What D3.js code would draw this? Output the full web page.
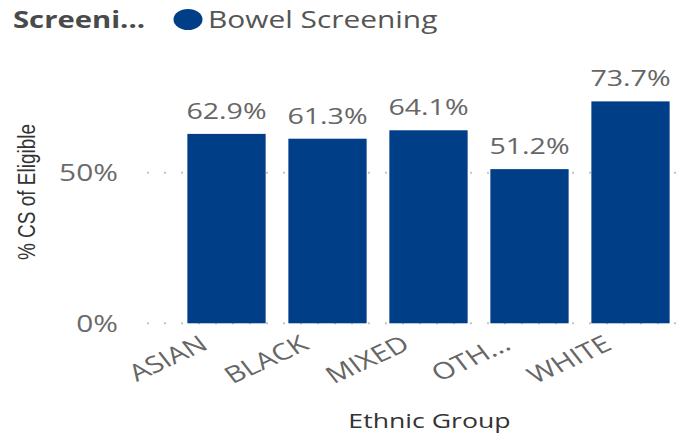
<!DOCTYPE html>
<html>
<head>
<meta charset="utf-8">
<script src="https://cdn.jsdelivr.net/npm/d3@7"></script>
<style>
  html, body { margin: 0; padding: 0; background: #fff; }
  svg { display: block; }
  text { font-family: "Open Sans", sans-serif; }
</style>
</head>
<body>
<svg id="chart" width="695" height="434"></svg>
<script>
const categories = ["ASIAN", "BLACK", "MIXED", "OTH...", "WHITE"];
const bowelScreening = [0.629, 0.613, 0.641, 0.512, 0.737];
const yTickValues = [0, 0.5];
const legendTitle = "Screeni...";
const seriesName = "Bowel Screening";
const xTitle = "Ethnic Group";
const yTitle = "% CS of Eligible";

const SX = 1.3; // horizontal glyph stretch seen in the reference
const barColor = "#003f87";
const svg = d3.select("#chart");

const x = d3.scaleBand().domain(categories).range([176, 681])
  .paddingInner(0.225).paddingOuter(0.1125);
const y = d3.scaleLinear().domain([0, 0.8]).range([323.3, 82.4]);

// gridlines (dotted)
svg.append("g").selectAll("line").data(yTickValues).join("line")
  .attr("x1", 147).attr("x2", 688)
  .attr("y1", d => y(d)).attr("y2", d => y(d))
  .attr("stroke", "#c4c4c4").attr("stroke-width", 2)
  .attr("stroke-dasharray", "2 15");

// y axis
const yAxis = svg.append("g").attr("transform", "translate(118,0)")
  .call(d3.axisLeft(y).tickValues(yTickValues).tickFormat(d3.format(".0%")).tickSize(0));
yAxis.select(".domain").remove();
yAxis.selectAll("text")
  .attr("x", null).attr("dy", null)
  .attr("text-anchor", "end")
  .attr("transform", `translate(0,8) scale(${SX},1)`)
  .attr("fill", "#6b6b6b")
  .style("font-size", "23px")
  .style("font-family", "'Open Sans', sans-serif");

// bars
svg.append("g").selectAll("rect").data(categories).join("rect")
  .attr("x", d => x(d))
  .attr("width", x.bandwidth())
  .attr("y", (d, i) => y(bowelScreening[i]))
  .attr("height", (d, i) => y(0) - y(bowelScreening[i]))
  .attr("fill", barColor);

// data labels
const fmt = d3.format(".1%");
svg.append("g").selectAll("text").data(categories).join("text")
  .attr("transform", (d, i) => `translate(${x(d) + x.bandwidth() / 2},${y(bowelScreening[i]) - 15}) scale(${SX},1)`)
  .attr("text-anchor", "middle")
  .attr("fill", "#666")
  .style("font-size", "22px")
  .text((d, i) => fmt(bowelScreening[i]));

// x axis labels
const xAxis = svg.append("g").attr("transform", `translate(0,${y(0)})`)
  .call(d3.axisBottom(x).tickSize(0));
xAxis.select(".domain").remove();
xAxis.selectAll("text")
  .attr("y", null).attr("dy", null)
  .attr("text-anchor", "end")
  .attr("transform", `translate(-17,25) scale(${SX},1) rotate(-31)`)
  .attr("fill", "#666")
  .style("font-size", "23px")
  .style("font-family", "'Open Sans', sans-serif");

// axis titles
svg.append("text")
  .attr("transform", `translate(429.5,428) scale(${SX},1)`)
  .attr("text-anchor", "middle")
  .attr("fill", "#333")
  .style("font-size", "20.5px")
  .text(xTitle);

svg.append("text")
  .attr("transform", `translate(35,192) scale(${SX},1) rotate(-90)`)
  .attr("text-anchor", "middle")
  .attr("fill", "#333")
  .style("font-family", "'Liberation Sans', Arial, sans-serif")
  .style("font-size", "19px")
  .text(yTitle);

// legend
svg.append("text")
  .attr("transform", `translate(13,28) scale(${SX},1)`)
  .attr("fill", "#4a4a4a")
  .style("font-size", "22.5px")
  .style("font-weight", "bold")
  .text(legendTitle);
svg.append("ellipse")
  .attr("cx", 188).attr("cy", 19.5).attr("rx", 14.5).attr("ry", 10.5)
  .attr("fill", barColor);
svg.append("text")
  .attr("transform", `translate(208,28) scale(${SX},1)`)
  .attr("fill", "#555")
  .style("font-size", "23px")
  .text(seriesName);
</script>
</body>
</html>
